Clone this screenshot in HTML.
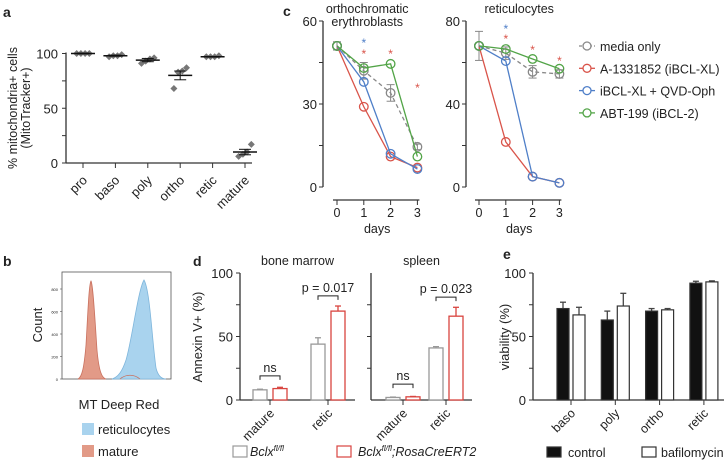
<!DOCTYPE html>
<html><head><meta charset="utf-8"><style>
html,body{margin:0;padding:0;background:#fff}
svg{display:block;font-family:"Liberation Sans",sans-serif}
</style></head><body>
<svg id="fig" width="727" height="461" viewBox="0 0 727 461" xmlns="http://www.w3.org/2000/svg"></svg>
<script>
// ---- Panel a data ----
const aCats=["pro","baso","poly","ortho","retic","mature"];
const aMeans=[100,98,94,80,97,10];
const aSem=[0.3,0.5,1.5,4,0.3,2.5];
const aPoints=[[100,100,100,100],[97,98,98,99],[91,93,95,96],[68,83,84,87],[97,97,97,98],[6,8,10,17]];
const aTicks=[0,50,100];
// ---- Panel c data ----
const cDays=[0,1,2,3];
const cSeriesNames=["media only","A-1331852 (iBCL-XL)","iBCL-XL + QVD-Oph","ABT-199 (iBCL-2)"];
const cOrthoMedia=[51,42,34,14.5];
const cOrthoRed=[51,29,11,7];
const cOrthoBlue=[51,38,12,6.5];
const cOrthoGreen=[51,43,44.5,11];
const cOrthoMediaErr=[1.5,3,3,1];
const cReticMedia=[68,64.5,55.5,54.5];
const cReticRed=[68,21.7,5,2];
const cReticBlue=[68,60.7,5,2];
const cReticGreen=[68,66.5,61.7,57];
const cReticMediaErr=[7,3,3,2];
const cOrthoTicks=[0,30,60];
const cReticTicks=[0,40,80];
// ---- Panel d data ----
const dCats=["mature","retic"];
const dBMGrey=[8,44];
const dBMRed=[9,70];
const dBMGreyErr=[0.5,5];
const dBMRedErr=[1,4];
const dSpGrey=[2,41];
const dSpRed=[2.5,66];
const dSpGreyErr=[0.3,1];
const dSpRedErr=[0.3,7];
const dTicks=[0,50,100];
// ---- Panel e data ----
const eCats=["baso","poly","ortho","retic"];
const eControl=[72,63,70,92];
const eBaf=[67,74,71,93];
const eControlErr=[5,7,2,1.5];
const eBafErr=[6,10,1,0.8];
const eTicks=[0,50,100];

const NS="http://www.w3.org/2000/svg";
const svg=document.getElementById('fig');
function el(tag,attrs,parent,text){
  const e=document.createElementNS(NS,tag);
  for(const k in attrs)e.setAttribute(k,attrs[k]);
  if(text!==undefined)e.textContent=text;
  (parent||svg).appendChild(e);return e;
}
function txt(x,y,s,size,anchor,parent,extra){
  return el('text',Object.assign({x:x,y:y,'font-size':size,'text-anchor':anchor||'middle',fill:'#222'},extra||{}),parent,s);
}
const AX='#333';

// ================= Panel a =================
const ga=el('g',{});


txt(3,17,'a',14,'start',ga,{'font-weight':'bold'});
const aY=v=>163-v*1.095;
const aX=i=>83+i*32.4;
el('line',{x1:66,y1:aY(100)-1,x2:66,y2:163,stroke:AX,'stroke-width':1.3},ga);
el('line',{x1:66,y1:163,x2:252,y2:163,stroke:AX,'stroke-width':1.3},ga);
[0,25,50,75,100].forEach(v=>el('line',{x1:62,y1:aY(v),x2:66,y2:aY(v),stroke:AX},ga));
aTicks.forEach(v=>{const t=txt(58,aY(v)+5,String(v),13,'end',ga);});
const ayl=txt(0,0,'% mitochondria+ cells',12.5,'middle',ga,{transform:'translate(17,108) rotate(-90)'});

txt(0,0,'(MitoTracker+)',12.5,'middle',ga,{transform:'translate(30,108) rotate(-90)'});
aCats.forEach((c,i)=>{
  const x=aX(i);
  el('line',{x1:x,y1:163,x2:x,y2:168,stroke:AX},ga);
  const t=txt(0,0,c,13,'end',ga,{transform:`translate(${x+5},${181}) rotate(-45)`});
  
  aPoints[i].forEach((p,j)=>{
    const px=x+(j-1.5)*4.2,py=aY(p);
    const d=el('path',{d:`M${px},${py-3.5}L${px+3.5},${py}L${px},${py+3.5}L${px-3.5},${py}Z`,fill:'#777'},ga);
    
  });
  const m=el('line',{x1:x-12,y1:aY(aMeans[i]),x2:x+12,y2:aY(aMeans[i]),stroke:'#111','stroke-width':1.5},ga);
  
  el('line',{x1:x,y1:aY(aMeans[i]+aSem[i]),x2:x,y2:aY(aMeans[i]-aSem[i]),stroke:'#111'},ga);
  el('line',{x1:x-6,y1:aY(aMeans[i]+aSem[i]),x2:x+6,y2:aY(aMeans[i]+aSem[i]),stroke:'#111'},ga);
  el('line',{x1:x-6,y1:aY(aMeans[i]-aSem[i]),x2:x+6,y2:aY(aMeans[i]-aSem[i]),stroke:'#111'},ga);
});

// ================= Panel c =================
const gc=el('g',{});


txt(283,16,'c',14,'start',gc,{'font-weight':'bold'});
const cols=['#888','#d9544a','#4f7fc8','#52a447'];
function linePlot(axX,x0,dx,yMax,ticks,series,errs,title,titleLines,stars){
  const Y=v=>187-v*(166/yMax);
  const X=i=>x0+i*dx;
  el('line',{x1:axX,y1:21,x2:axX,y2:187,stroke:AX,'stroke-width':1.3},gc);
  [0,0.25,0.5,0.75,1].forEach(f=>el('line',{x1:axX-4,y1:Y(yMax*f),x2:axX,y2:Y(yMax*f),stroke:AX},gc));
  ticks.forEach(v=>txt(axX-6,Y(v)+5,String(v),13,'end',gc));
  el('line',{x1:x0-4,y1:200,x2:X(3)+2,y2:200,stroke:AX,'stroke-width':1.3},gc);
  cDays.forEach((d,i)=>{el('line',{x1:X(i),y1:200,x2:X(i),y2:205,stroke:AX},gc);txt(X(i),217,String(d),12.5,'middle',gc);});
  const dl=txt((x0+X(3))/2,233,'days',12.5,'middle',gc);
  
  titleLines.forEach((s,k)=>txt((x0+X(3))/2-(titleLines.length>1?10:0),13+k*13,s,12.5,'middle',gc));
  series[0].forEach((v,i)=>{
    const e=errs[i];
    el('line',{x1:X(i),y1:Y(v-e),x2:X(i),y2:Y(v+e),stroke:'#888'},gc);
    el('line',{x1:X(i)-4,y1:Y(v+e),x2:X(i)+4,y2:Y(v+e),stroke:'#888'},gc);
    el('line',{x1:X(i)-4,y1:Y(v-e),x2:X(i)+4,y2:Y(v-e),stroke:'#888'},gc);
  });
  series.forEach((vals,s)=>{
    const pts=vals.map((v,i)=>X(i)+','+Y(v)).join(' ');
    const pl=el('polyline',{points:pts,fill:'none',stroke:cols[s],'stroke-width':1.3,'stroke-dasharray':s===0?'4,3':'none'},gc);
    
    vals.forEach((v,i)=>{
      const c=el('circle',{cx:X(i),cy:Y(v),r:4.3,fill:'none',stroke:cols[s],'stroke-width':1.3},gc);
      
    });
  });
  stars.forEach(st=>txt(X(st[0]),st[1],'*',12,'middle',gc,{fill:st[2]}));
}
linePlot(323,337,26.8,60,cOrthoTicks,[cOrthoMedia,cOrthoRed,cOrthoBlue,cOrthoGreen],cOrthoMediaErr,'ortho',['orthochromatic','erythroblasts'],
  [[1,47,'#4f7fc8'],[1,58,'#d9544a'],[2,58,'#d9544a'],[3,92,'#d9544a']]);
linePlot(466,479,26.8,80,cReticTicks,[cReticMedia,cReticRed,cReticBlue,cReticGreen],cReticMediaErr,'retic',['reticulocytes'],
  [[1,33,'#4f7fc8'],[1,43,'#d9544a'],[2,54,'#d9544a'],[3,65,'#d9544a']]);
cSeriesNames.forEach((n,i)=>{
  const y=46+i*22.3;
  const g=el('g',{},gc);
  
  el('line',{x1:579,y1:y,x2:595,y2:y,stroke:cols[i],'stroke-width':1.3,'stroke-dasharray':i===0?'3,2':'none'},g);
  el('circle',{cx:587,cy:y,r:4,fill:'#fff',stroke:cols[i],'stroke-width':1.3},g);
  txt(600,y+5,n,12.5,'start',g);
});

// ================= Panel b =================
const gb=el('g',{});


txt(3,266,'b',14,'start',gb,{'font-weight':'bold'});
el('rect',{x:62,y:272,width:109,height:107,fill:'none',stroke:'#555','stroke-width':0.8},gb);
el('path',{d:'M112,379 C118,377 122,372 126,360 C132,340 138,290 144,280 C150,290 152,340 156,368 C158,376 162,379 166,379 Z',fill:'#a9d3ee',stroke:'#7fb6dc','stroke-width':0.8},gb);
el('path',{d:'M78,379 C82,377 84,368 86,345 C88,310 89,284 91,281 C93,284 95,320 97,350 C99,372 102,378 106,379 Z',fill:'#e29a87',stroke:'#c9715f','stroke-width':0.8},gb);
el('path',{d:'M120,379 C126,374 134,374 140,379',fill:'none',stroke:'#c9715f','stroke-width':0.8},gb);
[0,200,400,600,800].forEach((v,i)=>{const y=379-i*22.5;el('line',{x1:60,y1:y,x2:62,y2:y,stroke:'#555','stroke-width':0.6},gb);txt(58,y+2,String(v),4,'end',gb);});
const cl=txt(0,0,'Count',13,'middle',gb,{transform:'translate(42,325) rotate(-90)'});

const mx=txt(119,409,'MT Deep Red',13,'middle',gb);

[['reticulocytes','#a9d3ee',423],['mature','#e29a87',445]].forEach(l=>{
  const g=el('g',{},gb);
  el('rect',{x:82,y:l[2],width:12,height:12,fill:l[1]},g);
  txt(98,l[2]+11,l[0],13,'start',g);
});

// ================= Panel d =================
const gd=el('g',{});


txt(193,266,'d',14,'start',gd,{'font-weight':'bold'});
const dY=v=>400-v*1.27;
el('line',{x1:240,y1:273,x2:240,y2:400,stroke:AX,'stroke-width':1.3},gd);
[0,25,50,75,100].forEach(v=>el('line',{x1:236,y1:dY(v),x2:240,y2:dY(v),stroke:AX},gd));
dTicks.forEach(v=>txt(233,dY(v)+5,String(v),13,'end',gd));
txt(0,0,'Annexin V+ (%)',13,'middle',gd,{transform:'translate(202,337) rotate(-90)'});
function dPlot(axX,centers,grey,red,ge,re,title,p,endX){
  if(axX!==240){el('line',{x1:axX,y1:273,x2:axX,y2:400,stroke:AX,'stroke-width':1.3},gd);
    [25,50,75].forEach(v=>el('line',{x1:axX-4,y1:dY(v),x2:axX,y2:dY(v),stroke:AX},gd));}
  el('line',{x1:axX,y1:400,x2:endX,y2:400,stroke:AX,'stroke-width':1.3},gd);
  txt((axX+endX)/2,265,title,12.5,'middle',gd);
  centers.forEach((c,i)=>{
    el('line',{x1:c,y1:400,x2:c,y2:405,stroke:AX},gd);
    txt(0,0,dCats[i],12.5,'end',gd,{transform:`translate(${c+5},${414}) rotate(-45)`});
    [[grey,ge,'#999',-10],[red,re,'#d9443f',10]].forEach(s=>{
      const v=s[0][i],e=s[1][i],x=c+s[3];
      el('line',{x1:x,y1:dY(v),x2:x,y2:dY(v+e),stroke:s[2],'stroke-width':1.3},gd);
      el('line',{x1:x-3,y1:dY(v+e),x2:x+3,y2:dY(v+e),stroke:s[2],'stroke-width':1.3},gd);
      const b=el('rect',{x:x-7,y:dY(v),width:14,height:v*1.27,fill:'#fff',stroke:s[2],'stroke-width':1.3},gd);
      
    });
    const top=i===0?dY(Math.max(grey[i],red[i])+10):dY(red[i]+re[i]+8);
    el('path',{d:`M${c-10},${top+4}V${top}H${c+10}V${top+4}`,fill:'none',stroke:'#222','stroke-width':1},gd);
    txt(c,top-4,i===0?'ns':p,12.5,'middle',gd);
  });
}
dPlot(240,[270,328],dBMGrey,dBMRed,dBMGreyErr,dBMRedErr,'bone marrow','p = 0.017',355);
dPlot(371,[403,446],dSpGrey,dSpRed,dSpGreyErr,dSpRedErr,'spleen','p = 0.023',472);
[[233,'#999',250,'Bclx','fl/fl',''],[337,'#d9443f',358,'Bclx','fl/fl',';RosaCreERT2']].forEach(l=>{
  const g=el('g',{},gd);
  el('rect',{x:l[0],y:446,width:14,height:11,fill:'#fff',stroke:l[1],'stroke-width':1.2},g);
  const t=el('text',{x:l[2],y:456,'font-size':12.5,'font-style':'italic',fill:'#222'},g);
  t.appendChild(document.createTextNode(l[3]));
  el('tspan',{'font-size':8,dy:-5},t,l[4]);
  el('tspan',{'font-size':12.5,dy:5},t,l[5]);
});

// ================= Panel e =================
const ge=el('g',{});


txt(503,259,'e',14,'start',ge,{'font-weight':'bold'});
el('line',{x1:533,y1:273,x2:533,y2:400,stroke:AX,'stroke-width':1.3},ge);
el('line',{x1:533,y1:400,x2:724,y2:400,stroke:AX,'stroke-width':1.3},ge);
[0,25,50,75,100].forEach(v=>el('line',{x1:529,y1:dY(v),x2:533,y2:dY(v),stroke:AX},ge));
eTicks.forEach(v=>txt(526,dY(v)+5,String(v),13,'end',ge));
txt(0,0,'viability (%)',13,'middle',ge,{transform:'translate(509,337) rotate(-90)'});
eCats.forEach((c,i)=>{
  const cx=571+i*44.3;
  el('line',{x1:cx,y1:400,x2:cx,y2:405,stroke:AX},ge);
  txt(0,0,c,12.5,'end',ge,{transform:`translate(${cx+5},${414}) rotate(-45)`});
  [[eControl,eControlErr,'#111',-8],[eBaf,eBafErr,'#fff',8]].forEach(s=>{
    const v=s[0][i],e=s[1][i],x=cx+s[3];
    el('line',{x1:x,y1:dY(v),x2:x,y2:dY(v+e),stroke:'#444','stroke-width':1.3},ge);
    el('line',{x1:x-3,y1:dY(v+e),x2:x+3,y2:dY(v+e),stroke:'#444','stroke-width':1.3},ge);
    const b=el('rect',{x:x-6,y:dY(v),width:12,height:v*1.27,fill:s[2],stroke:'#333','stroke-width':1.2},ge);
    
  });
});
[[547,'#111',568,'control'],[642,'#fff',661,'bafilomycin']].forEach(l=>{
  const g=el('g',{},ge);
  el('rect',{x:l[0],y:447,width:14,height:10,fill:l[1],stroke:'#333','stroke-width':1.2},g);
  txt(l[2],457,l[3],12.5,'start',g);
});
</script>
</body></html>
